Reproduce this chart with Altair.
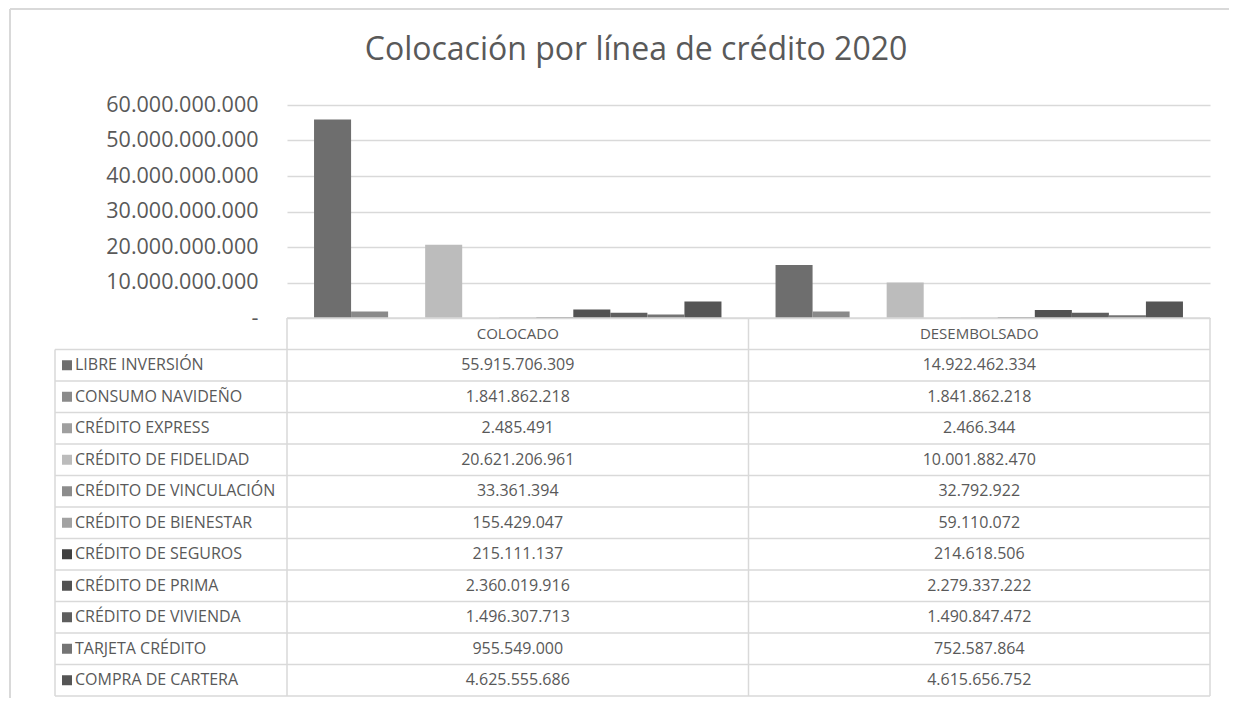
import altair as alt
import pandas as pd

TITLE = "Colocación por línea de crédito 2020"
columns = ["COLOCADO", "DESEMBOLSADO"]
series = [
    "LIBRE INVERSIÓN", "CONSUMO NAVIDEÑO", "CRÉDITO EXPRESS", "CRÉDITO DE FIDELIDAD",
    "CRÉDITO DE VINCULACIÓN", "CRÉDITO DE BIENESTAR", "CRÉDITO DE SEGUROS",
    "CRÉDITO DE PRIMA", "CRÉDITO DE VIVIENDA", "TARJETA CRÉDITO", "COMPRA DE CARTERA",
]
colocado = [55915706309, 1841862218, 2485491, 20621206961, 33361394, 155429047,
            215111137, 2360019916, 1496307713, 955549000, 4625555686]
desembolsado = [14922462334, 1841862218, 2466344, 10001882470, 32792922, 59110072,
                214618506, 2279337222, 1490847472, 752587864, 4615656752]
colors = ["#6e6e6e", "#8a8a8a", "#9f9f9f", "#bcbcbc", "#8c8c8c", "#a2a2a2",
          "#404040", "#525252", "#5e5e5e", "#747474", "#555555"]
y_ticks = [0, 10e9, 20e9, 30e9, 40e9, 50e9, 60e9]

# ---------- layout constants (pixels, relative to plot origin) ----------
W = 923          # plot / value columns width
BAR_H = 213      # height of the bar area
ROW_H = 31.5
N_ROWS = len(series) + 1
TABLE_BOTTOM = BAR_H + ROW_H * N_ROWS
LABEL_COL = -232  # left edge of the label column
GRID = "#d9d9d9"
TXT = "#595959"
FONT = "Open Sans"
TFS = 16

def fmt(v):
    return f"{v:,}".replace(",", ".")

rows = []
for i, s in enumerate(series):
    for c, vals in zip(columns, [colocado, desembolsado]):
        rows.append({"series": s, "column": c, "value": vals[i],
                     "label": fmt(vals[i]), "row": i + 1.5})
df = pd.DataFrame(rows)
df_series = pd.DataFrame({"series": series, "row": [i + 1.5 for i in range(len(series))]})
df_head = pd.DataFrame({"column": columns, "row": [0.5, 0.5]})

xscale = alt.Scale(domain=columns, paddingInner=0, paddingOuter=0)
offscale = alt.Scale(domain=series, paddingInner=0, paddingOuter=0.73)
cscale = alt.Scale(domain=series, range=colors)
tscale = alt.Scale(domain=[0, N_ROWS], range=[BAR_H, TABLE_BOTTOM], nice=False, zero=False)

bars = alt.Chart(df).mark_bar().encode(
    x=alt.X("column:N", scale=xscale, sort=columns, axis=None),
    xOffset=alt.XOffset("series:N", scale=offscale, sort=series),
    y=alt.Y("value:Q",
            scale=alt.Scale(domain=[0, 60e9], range=[BAR_H, 0], nice=False),
            axis=alt.Axis(values=y_ticks, title=None, domain=False, ticks=False,
                          labelPadding=29, labelFontSize=21.5, labelFont=FONT,
                          labelColor=TXT, gridColor=GRID, gridWidth=1.5,
                          labelExpr="datum.value == 0 ? '-' : replace(format(datum.value, ','), /,/g, '.')")),
    color=alt.Color("series:N", scale=cscale, legend=None),
)

head = alt.Chart(df_head).mark_text(fontSize=15, font=FONT, color=TXT, baseline="middle").encode(
    x=alt.X("column:N", scale=xscale, sort=columns, axis=None),
    y=alt.Y("row:Q", scale=tscale, axis=None),
    text="column:N",
)

vals = alt.Chart(df).mark_text(fontSize=TFS, font=FONT, color=TXT, baseline="middle").encode(
    x=alt.X("column:N", scale=xscale, sort=columns, axis=None),
    y=alt.Y("row:Q", scale=tscale, axis=None),
    text="label:N",
)

labels = alt.Chart(df_series).mark_text(fontSize=TFS, font=FONT, color=TXT, align="left",
                                        baseline="middle").encode(
    x=alt.value(LABEL_COL + 20),
    y=alt.Y("row:Q", scale=tscale, axis=None),
    text="series:N",
)

keys = alt.Chart(df_series).mark_square(size=100, opacity=1, shape="square").encode(
    x=alt.value(LABEL_COL + 12),
    y=alt.Y("row:Q", scale=tscale, axis=None),
    color=alt.Color("series:N", scale=cscale, legend=None),
)

df_hlines = pd.DataFrame({"r": list(range(1, N_ROWS + 1))})
hlines = alt.Chart(df_hlines).mark_rule(color=GRID, strokeWidth=1.5).encode(
    x=alt.value(LABEL_COL), x2=alt.value(W),
    y=alt.Y("r:Q", scale=tscale, axis=None),
)
hline0 = alt.Chart(pd.DataFrame({"r": [0]})).mark_rule(color=GRID, strokeWidth=1.5).encode(
    x=alt.value(0), x2=alt.value(W),
    y=alt.Y("r:Q", scale=tscale, axis=None),
)

def vline(xpix, top):
    d = pd.DataFrame({"y0": [top], "y1": [N_ROWS]})
    return alt.Chart(d).mark_rule(color=GRID, strokeWidth=1.5).encode(
        x=alt.value(xpix),
        y=alt.Y("y0:Q", scale=tscale, axis=None),
        y2="y1:Q",
    )

vlines = [vline(LABEL_COL, 1), vline(0, 0), vline(W / 2, 0), vline(W, 0)]

one = pd.DataFrame({"t": [TITLE]})
border_left = alt.Chart(one).mark_rule(color=GRID, strokeWidth=2).encode(
    x=alt.value(-277), y=alt.value(-96), y2=alt.value(TABLE_BOTTOM + 2))
border_top = alt.Chart(one).mark_rule(color=GRID, strokeWidth=2).encode(
    x=alt.value(-277), x2=alt.value(960), y=alt.value(-96))

title = alt.Chart(one).mark_text(fontSize=32, font=FONT, color=TXT, baseline="middle",
                                 align="center").encode(
    x=alt.value(349), y=alt.value(-55), text="t:N")

chart = alt.layer(
    border_left, border_top, title, bars, hline0, hlines, *vlines, keys, labels, head, vals
).resolve_scale(y="independent").properties(
    width=W, height=TABLE_BOTTOM,
    autosize=alt.AutoSizeParams(type="none"),
    padding={"left": 279, "top": 97, "right": 19, "bottom": 2},
).configure_view(stroke=None)

chart.save("out.html", embed_options={"renderer": "svg", "actions": False})
